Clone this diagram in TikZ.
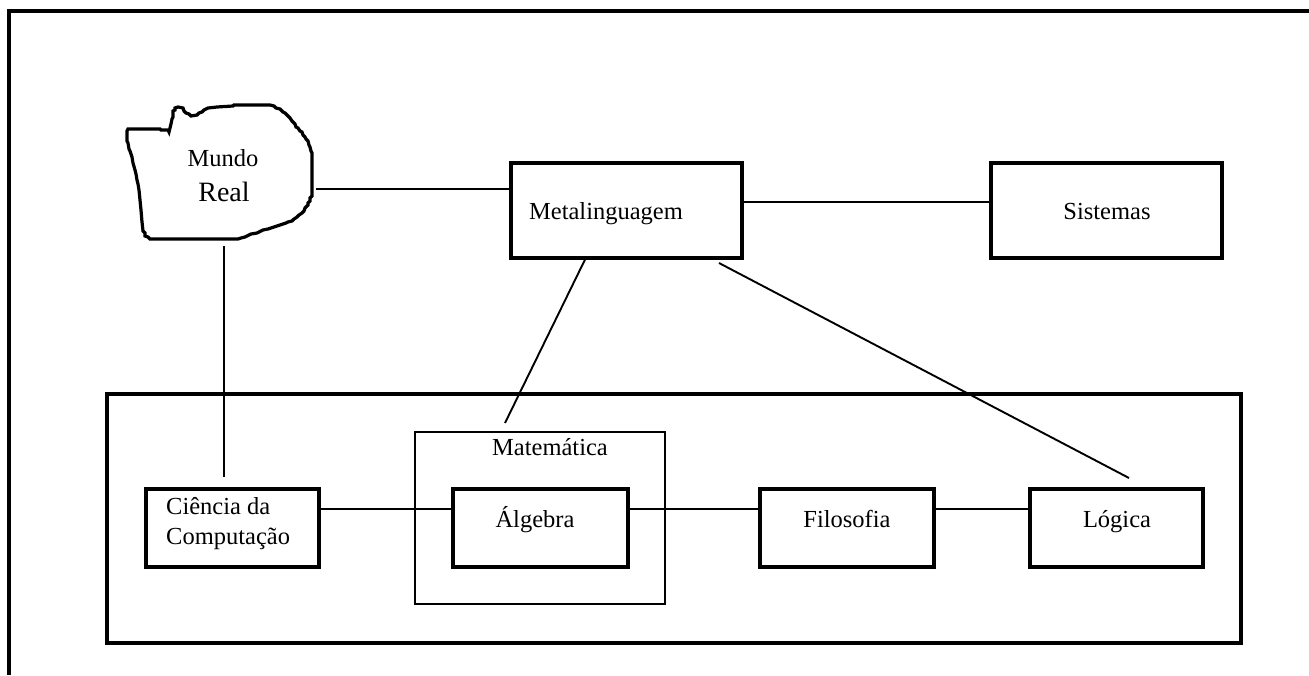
\documentclass[tikz,border=0pt]{standalone}
\usepackage{fontspec}
\setmainfont{Liberation Serif}
\begin{document}
\begin{tikzpicture}[x=1pt,y=-1pt,
  box/.style={draw,line width=3.2pt,rectangle,inner sep=0pt,minimum width=#1},
  conn/.style={line width=1.9pt},
  lbl/.style={inner sep=0pt,font=\fontsize{24.5}{30}\selectfont}]
\useasboundingbox (0,0) rectangle (1309,675);
% frame
\draw[line width=3.4pt] (9,675) -- (9,11) -- (1309,11);
% cloud
\draw[line width=3.2pt,line join=miter]
 (128,129) -- (160,129) -- (161,130) -- (168,130) -- (169,132) -- (170,128) -- (171,124) -- (172,119) -- (173,117) -- (173,111) -- (175,110) -- (175,108) -- (178,107) -- (183,108) -- (184,111) -- (186,113)
 -- (189,114) -- (191,116) -- (197,115) -- (199,113) -- (202,112) -- (204,110) -- (208,108) -- (217,107) -- (233,106) -- (234,105) -- (270,105) -- (274,106) -- (276,108) -- (280,109)
 -- (283,112) -- (285,113) -- (288,116) -- (290,118) -- (292,121) -- (295,124) -- (296,127) -- (298,128) -- (300,131) -- (302,132) -- (303,135) -- (305,137) -- (306,139) -- (308,141) -- (309,145) -- (310,147) -- (311,151) -- (312,153)
 -- (312,196) -- (310,198) -- (310,201) -- (308,203) -- (308,205) -- (305,208) -- (304,211) -- (302,213) -- (299,215) -- (297,217) -- (294,219) -- (292,221) -- (288,222) -- (286,223) -- (280,225)
 -- (274,227) -- (268,229) -- (263,230) -- (257,233) -- (251,234) -- (245,237) -- (241,238) -- (238,239) -- (150,239) -- (148,237) -- (145,236) -- (145,233) -- (143,231) -- (142,222) -- (141,210)
 -- (140,200) -- (139,190) -- (138,184) -- (137,180) -- (136,174) -- (135,170) -- (133,163) -- (132,157) -- (130,151) -- (129,149) -- (128,143) -- (127,141) -- (127,131) -- cycle;
\node[inner sep=0pt,minimum width=190pt,minimum height=141pt] (mundo) at (221,175.5) {};
\node[inner sep=0pt,anchor=base,font=\fontsize{24.5}{28}\selectfont] (mundoT) at (223,166) {Mundo};
\node[inner sep=0pt,anchor=base,font=\fontsize{28}{32}\selectfont] (realT) at (224,201) {Real};
% top boxes
\node[box=231pt,minimum height=95pt] (meta) at (626.5,210.5) {};
\node[lbl,anchor=base] (metaT) at (606,219) {Metalinguagem};
\node[box=231pt,minimum height=95pt] (sis) at (1106.5,210.5) {};
\node[lbl,anchor=base] (sisT) at (1107,219) {Sistemas};
% big box
\node[box=1134pt,minimum height=249pt] (big) at (674,518.5) {};
\node[draw,line width=1.2pt,inner sep=0pt,minimum width=250pt,minimum height=172pt] (mat) at (540,518) {};
\node[lbl,anchor=base] (matT) at (550,455) {Matemática};
% inner boxes
\node[box=173pt,minimum height=78pt] (cien) at (232.5,528) {};
\node[lbl,anchor=base west] (cienT1) at (166,514) {Ciência da};
\node[lbl,anchor=base west] (cienT2) at (166,544) {Computação};
\node[box=175pt,minimum height=78pt] (alg) at (540.5,528) {};
\node[lbl,anchor=base] (algT) at (535,527) {Álgebra};
\node[box=174pt,minimum height=78pt] (fil) at (847,528) {};
\node[lbl,anchor=base] (filT) at (847,527) {Filosofia};
\node[box=173pt,minimum height=78pt] (log) at (1116.5,528) {};
\node[lbl,anchor=base] (logT) at (1117,527) {Lógica};
% free ends
\coordinate (vEnd) at (224,477);
\coordinate (matEnd) at (505,423);
\coordinate (logStart) at (719,263);
\coordinate (logEnd) at (1129,478);
% connectors
\draw[conn] (mundo.east |- 0,189) -- (meta.west |- 0,189);
\draw[conn] (meta.east |- 0,202) -- (sis.west |- 0,202);
\draw[conn] (vEnd |- mundo.south) -- (vEnd);
\draw[conn] (meta.south -| 585,0) -- (matEnd);
\draw[conn] (logStart) -- (logEnd);
\draw[conn] (cien.east |- 0,509) -- (alg.west |- 0,509);
\draw[conn] (alg.east |- 0,509) -- (fil.west |- 0,509);
\draw[conn] (fil.east |- 0,509) -- (log.west |- 0,509);
\end{tikzpicture}
\end{document}
